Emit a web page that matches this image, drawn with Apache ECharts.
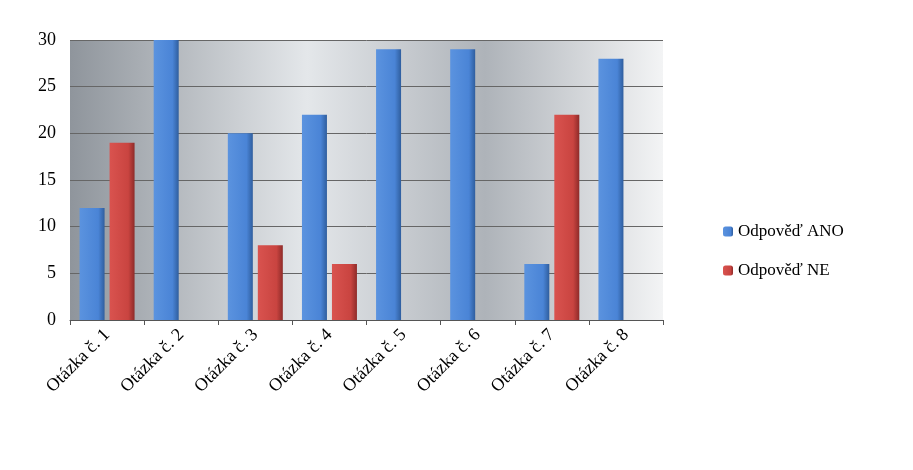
<!DOCTYPE html>
<html><head><meta charset="utf-8">
<script src="https://cdn.jsdelivr.net/npm/echarts@6/dist/echarts.min.js"></script>
<style>html,body{margin:0;background:#fff}#c{width:913px;height:470px}</style>
</head><body><div id="c"></div>
<script>
var categories=['Otázka č. 1','Otázka č. 2','Otázka č. 3','Otázka č. 4','Otázka č. 5','Otázka č. 6','Otázka č. 7','Otázka č. 8'];
var ano=[12,30,20,22,29,29,6,28];
var ne=[19,0,8,6,0,0,22,0];
var yTicks=[0,5,10,15,20,25,30];

var font='Liberation Serif';
var chart=echarts.init(document.getElementById('c'));
chart.setOption({
  textStyle:{fontFamily:font},
  legend:{orient:'vertical',left:718,top:218,itemGap:22,itemWidth:10,itemHeight:10,
    textStyle:{fontFamily:font,fontSize:17,color:'#000'},
    data:['Odpověď ANO','Odpověď NE']},
  grid:{left:70,right:250,top:40,bottom:150,show:true,borderWidth:0,
    backgroundColor:new echarts.graphic.LinearGradient(0,0,1,0,[
      {offset:0,color:'#8f959c'},{offset:0.4,color:'#e4e7ea'},{offset:0.7,color:'#aeb3b9'},{offset:1,color:'#f3f4f5'}])},
  xAxis:{type:'category',data:categories,
    axisLine:{lineStyle:{color:'#555'}},axisTick:{show:true,lineStyle:{color:'#555'}},
    axisLabel:{rotate:45,color:'#000',fontSize:18,fontFamily:font,margin:12}},
  yAxis:{type:'value',min:0,max:30,interval:5,
    axisLine:{show:false},axisTick:{show:false},
    axisLabel:{color:'#000',fontSize:18,fontFamily:font,margin:14,
      formatter:function(v){return yTicks.indexOf(v)>=0?v:'';}},
    splitLine:{lineStyle:{color:'#666'}}},
  series:[
    {name:'Odpověď ANO',type:'bar',data:ano,barWidth:25,barGap:'20%',
      itemStyle:{color:new echarts.graphic.LinearGradient(0,0,1,0,[{offset:0,color:'#5b93df'},{offset:0.75,color:'#4a84d6'},{offset:1,color:'#2f5e9e'}])}},
    {name:'Odpověď NE',type:'bar',data:ne,barWidth:25,
      itemStyle:{color:new echarts.graphic.LinearGradient(0,0,1,0,[{offset:0,color:'#d9534f'},{offset:0.75,color:'#c94440'},{offset:1,color:'#8e2b29'}])}}
  ]
});
</script></body></html>
